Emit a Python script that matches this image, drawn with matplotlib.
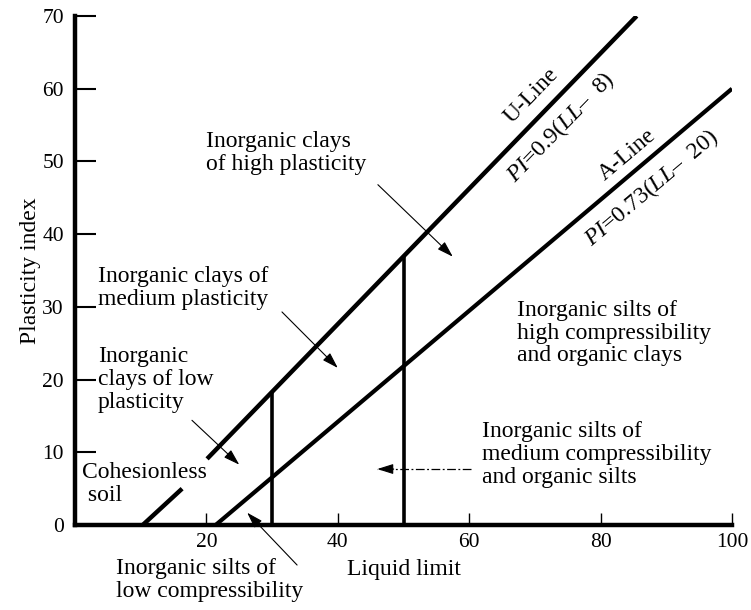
import numpy as np
import matplotlib
matplotlib.use("Agg")
import matplotlib.pyplot as plt

# -----------------------------
# Chart data
# -----------------------------
# U-line, drawn in two pieces (small break near LL ~ 16-20)
u_line_ll = [10.3, 16.3, np.nan, 20.1, 85.5]
u_line_pi = [0.0, 5.0, np.nan, 9.1, 70.0]
# A-line
a_line_ll = [21.4, 100.0]
a_line_pi = [0.0, 60.0]
# vertical dividers at LL = 30 and LL = 50, up to the U-line
divider_ll = [30, 50]
divider_top = [18.2, 36.8]

x_ticks = [20, 40, 60, 80, 100]
y_ticks = [0, 10, 20, 30, 40, 50, 60, 70]

# zone labels: text, (x, y) of top-left corner, arrow tail, arrow head
zone_labels = [
    ("Inorganic clays\nof high plasticity", (20.0, 54.2), (46.1, 46.8), (57.5, 36.9)),
    ("Inorganic clays of\nmedium plasticity", (3.5, 35.6), (31.5, 29.3), (40.0, 21.6)),
    ("Inorganic\nclays of low\nplasticity", (3.5, 24.6), (17.8, 14.4), (25.0, 8.3)),
    ("Cohesionless\n soil", (1.0, 8.7), None, None),
    ("Inorganic silts of\nhigh compressibility\nand organic clays", (67.3, 31.0), None, None),
    ("Inorganic silts of\nmedium compressibility\nand organic silts", (62.0, 14.3), None, None),
    ("Inorganic silts of\nlow compressibility", (6.3, -4.6), (33.8, -5.5), (26.2, 1.7)),
]

# dash-dot arrow for the medium compressibility zone
mid_arrow_ll = [60.2, 46.0]
mid_arrow_pi = 7.7

# -----------------------------
# Style
# -----------------------------
plt.rcParams["font.family"] = ["Liberation Serif", "DejaVu Serif"]
plt.rcParams["mathtext.fontset"] = "custom"
plt.rcParams["mathtext.rm"] = "Liberation Serif"
plt.rcParams["mathtext.it"] = "Liberation Serif:italic"
fs = 17
tick_fs = 15.5
arrow_style = "-|>,head_length=0.7,head_width=0.22"

fig = plt.figure(figsize=(7.51, 6.10), dpi=100)
ax = fig.add_axes([0.0999, 0.1393, 0.8748, 0.8345])

ax.plot(u_line_ll, u_line_pi, color="black", lw=3.2, solid_capstyle="butt")
ax.plot(a_line_ll, a_line_pi, color="black", lw=3.0, solid_capstyle="butt")
for ll, top in zip(divider_ll, divider_top):
    ax.plot([ll, ll], [0, top], color="black", lw=2.6)

ax.set_xlim(0, 100)
ax.set_ylim(0, 70)
ax.set_xticks(x_ticks)
ax.set_yticks(y_ticks)
ax.tick_params(axis="y", direction="in", length=15, width=1.5, labelsize=tick_fs, pad=8)
ax.tick_params(axis="x", direction="in", length=9, width=1.0, labelsize=tick_fs, pad=6)
for side in ["top", "right"]:
    ax.spines[side].set_visible(False)
for side in ["left", "bottom"]:
    ax.spines[side].set_linewidth(3.2)

ax.set_xlabel("Liquid limit", fontsize=fs, labelpad=5)
ax.set_ylabel("Plasticity index", fontsize=fs, labelpad=1)

# zone labels and arrows
for txt, pos, tail, head in zone_labels:
    ax.text(pos[0], pos[1], txt, fontsize=fs, ha="left", va="top",
            linespacing=1.12, clip_on=False)
    if tail is not None:
        ax.annotate("", xy=head, xytext=tail,
                    arrowprops=dict(arrowstyle=arrow_style, lw=0.8, color="black",
                                    mutation_scale=14, shrinkA=0, shrinkB=0))

ax.plot(mid_arrow_ll, [mid_arrow_pi, mid_arrow_pi], color="black", lw=0.9,
        dashes=(7, 2, 1.5, 2))
ax.annotate("", xy=(mid_arrow_ll[1], mid_arrow_pi),
            xytext=(mid_arrow_ll[1] + 2.5, mid_arrow_pi),
            arrowprops=dict(arrowstyle=arrow_style, lw=0.8, color="black",
                            mutation_scale=14, shrinkA=0, shrinkB=0))

# line labels, rotated along the lines
def screen_angle(x0, y0, x1, y1):
    p0 = ax.transData.transform((x0, y0))
    p1 = ax.transData.transform((x1, y1))
    return np.degrees(np.arctan2(p1[1] - p0[1], p1[0] - p0[0]))

u_ang = screen_angle(u_line_ll[3], u_line_pi[3], u_line_ll[4], u_line_pi[4])
a_ang = screen_angle(a_line_ll[0], a_line_pi[0], a_line_ll[1], a_line_pi[1])

ax.text(69.4, 59.0, "U-Line", fontsize=fs, rotation=u_ang, rotation_mode="anchor",
        ha="center", va="center")
ax.text(74.0, 54.7, r"$PI$=0.9($LL$–  8)", fontsize=fs, rotation=u_ang,
        rotation_mode="anchor", ha="center", va="center")
ax.text(84.0, 50.9, "A-Line", fontsize=fs, rotation=a_ang, rotation_mode="anchor",
        ha="center", va="center")
ax.text(87.8, 46.4, r"$PI$=0.73($LL$–  20)", fontsize=fs, rotation=a_ang,
        rotation_mode="anchor", ha="center", va="center")

fig.savefig("out.png", dpi=100)
